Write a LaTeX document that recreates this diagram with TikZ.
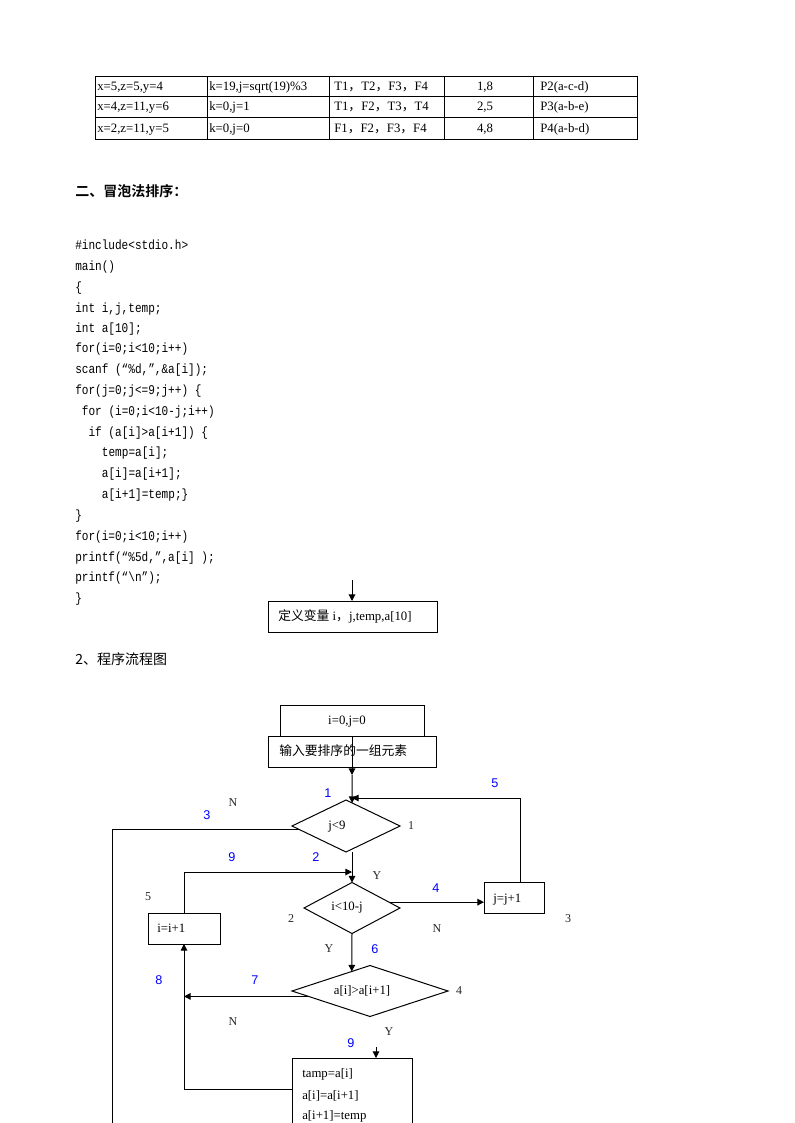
\documentclass[tikz,border=0pt]{standalone}
\usepackage{fontspec}
\setmainfont{Liberation Serif}
\newfontfamily\cjk{Noto Sans CJK SC}
\newfontfamily\cjkb{Noto Sans CJK SC Bold}
\newfontfamily\codefont[FakeStretch=0.83]{Liberation Mono}
\newfontfamily\sansnum{Liberation Sans}
\usetikzlibrary{shapes.geometric,arrows.meta}
\definecolor{numblue}{RGB}{0,0,255}
\begin{document}
\begin{tikzpicture}[x=0.75pt,y=-0.75pt,
  ln/.style={line width=0.75pt},
  box/.style={draw, line width=0.75pt, inner sep=0pt, outer sep=0pt, minimum height=23.25pt},
  dia/.style={draw, diamond, line width=0.75pt, inner sep=0pt, outer sep=0pt},
  arr/.style={line width=0.75pt, -{Triangle[length=5pt,width=5pt]}},
  txt/.style={inner sep=0pt, font=\fontsize{9.6}{11}\selectfont, text height=6.5pt, text depth=1.8pt},
  ltxt/.style={txt, anchor=west},
  blu/.style={inner sep=0pt, text=numblue, font=\sansnum\fontsize{9.5}{11}\selectfont},
  blk/.style={inner sep=0pt, text=black!85, font=\fontsize{9}{11}\selectfont},
  code/.style={anchor=west, inner sep=0pt, font=\codefont\fontsize{10}{12}\selectfont, text height=7pt, text depth=2pt}
]
\useasboundingbox (0,0) rectangle (794,1123);
\clip (0,0) rectangle (794,1123);

% ---------- table ----------
\draw[ln] (95,77) rectangle (637,140);
\draw[ln] (95,97) -- (637,97);
\draw[ln] (95,118) -- (637,118);
\foreach \cx in {207,329,444,533} \draw[ln] (\cx,77) -- (\cx,140);
\node[ltxt] (t11) at (97,87) {x=5,z=5,y=4};
\node[ltxt] (t12) at (209,87) {k=19,j=sqrt(19)\%3};
\node[ltxt] (t13) at (334,87) {T1{\cjk ，}T2{\cjk ，}F3{\cjk ，}F4};
\node[txt] (t14) at (485,87) {1,8};
\node[ltxt] (t15) at (540,87) {P2(a-c-d)};
\node[ltxt] (t21) at (97,107.5) {x=4,z=11,y=6};
\node[ltxt] (t22) at (209,107.5) {k=0,j=1};
\node[ltxt] (t23) at (334,107.5) {T1{\cjk ，}F2{\cjk ，}T3{\cjk ，}T4};
\node[txt] (t24) at (485,107.5) {2,5};
\node[ltxt] (t25) at (540,107.5) {P3(a-b-e)};
\node[ltxt] (t31) at (97,129) {x=2,z=11,y=5};
\node[ltxt] (t32) at (209,129) {k=0,j=0};
\node[ltxt] (t33) at (334,129) {F1{\cjk ，}F2{\cjk ，}F3{\cjk ，}F4};
\node[txt] (t34) at (485,129) {4,8};
\node[ltxt] (t35) at (540,129) {P4(a-b-d)};

% ---------- heading ----------
\node[anchor=west, inner sep=0pt, font=\cjkb\fontsize{10.5}{12}\selectfont] (head) at (75,191) {二、冒泡法排序：};

% ---------- code ----------
\node[code] (c01) at (75,246) {\#include<stdio.h>};
\node[code] (c02) at (75,267) {main()};
\node[code] (c03) at (75,288) {\{};
\node[code] (c04) at (75,309) {int i,j,temp;};
\node[code] (c05) at (75,329) {int a[10];};
\node[code] (c06) at (75,349) {for(i=0;i<10;i++)};
\node[code] (c07) at (75,370) {scanf (“\%d,”,\&a[i]);};
\node[code] (c08) at (75,391) {for(j=0;j<=9;j++) \{};
\node[code] (c09) at (81.7,412) {for (i=0;i<10-j;i++)};
\node[code] (c10) at (88.3,433) {if (a[i]>a[i+1]) \{};
\node[code] (c11) at (101.7,453) {temp=a[i];};
\node[code] (c12) at (101.7,474) {a[i]=a[i+1];};
\node[code] (c13) at (101.7,495) {a[i+1]=temp;\}};
\node[code] (c14) at (75,516) {\}};
\node[code] (c15) at (75,537) {for(i=0;i<10;i++)};
\node[code] (c16) at (75,558) {printf(“\%5d,”,a[i] );};
\node[code] (c17) at (75,578) {printf(“\textbackslash n”);};
\node[code] (c18) at (75,599) {\}};

% ---------- define box ----------
\node[box, minimum width=126.75pt] (def) at (352.5,616.5) {};
\node[ltxt] (deft) at (278,617) {{\cjk 定义变量} i{\cjk ，}j,temp,a[10]};
\coordinate (tin) at (352,580);
\draw[arr] (tin) -- (tin |- def.north);

\node[anchor=west, inner sep=0pt, font=\cjk\fontsize{10.5}{12}\selectfont] (sub) at (75,659) {2、程序流程图};

% ---------- flowchart nodes ----------
\node[box, minimum width=108pt] (i0) at (352,720.5) {};
\node[txt] (i0t) at (347,721) {i=0,j=0};
\node[box, minimum width=126pt] (inp) at (352,751.5) {};
\node[ltxt] (inpt) at (279,752) {\cjk 输入要排序的一组元素};

\node[dia, minimum width=81pt, minimum height=39pt] (d1) at (346,826) {};
\node[txt] (d1t) at (337,826) {j<9};
\node[dia, minimum width=72pt, minimum height=38.25pt] (d2) at (352,908) {};
\node[txt] (d2t) at (347,907) {i<10-j};
\node[dia, minimum width=117pt, minimum height=38.25pt] (d3) at (370,991) {};
\node[txt] (d3t) at (362,991) {a[i]>a[i+1]};

\node[box, minimum width=45pt] (jb) at (514,897.5) {};
\node[ltxt] (jbt) at (493,899) {j=j+1};
\node[box, minimum width=54pt] (ib) at (184,928.5) {};
\node[ltxt] (ibt) at (157,929) {i=i+1};
\node[box, minimum width=90pt, minimum height=69pt] (tb) at (352,1104) {};
\node[ltxt] (tb1) at (302,1074) {tamp=a[i]};
\node[ltxt] (tb2) at (302,1096) {a[i]=a[i+1]};
\node[ltxt] (tb3) at (302,1116) {a[i+1]=temp};

% ---------- connectors ----------
\coordinate (m1) at (352,775);
\draw[arr] (i0.south) -- (m1);
\draw[arr] (m1) -- (d1.75);
\coordinate (c5) at (520,798);
\draw[arr] (c5 |- jb.north) -- (c5) -- (c5 -| m1);
\coordinate (c3) at (112,1140);
\draw[ln] (d1.184) -| (c3);
\draw[arr] (d1.south -| d2.north) -- (d2.north);
\coordinate (c9) at (352,872);
\draw[arr] (ib.north) |- (c9);
\draw[arr] (d2.9) -- (d2.9 -| jb.west);
\draw[arr] (d2.south) -- (d3.133);
\draw[arr] (d3.185) -- (d3.185 -| ib.south);
\coordinate (c9b) at (376,1047);
\draw[arr] (c9b) -- (c9b |- tb.north);
\coordinate (c8) at (292,1089);
\draw[arr] (tb.west |- c8) -| (ib.south);

% ---------- labels ----------
\node[blu] (n1) at (328,793) {1};
\node[blk] (b1) at (411,826) {1};
\node[blk] (bN1) at (233,803) {N};
\node[blu] (n3) at (207,815) {3};
\node[blu] (n9a) at (232,857) {9};
\node[blu] (n2) at (316,857) {2};
\node[blu] (n5) at (495,783) {5};
\node[blk] (bY1) at (377,876) {Y};
\node[blu] (n4) at (436,888) {4};
\node[blk] (b5) at (148,897) {5};
\node[blk] (b2) at (291,919) {2};
\node[blk] (b3) at (568,919) {3};
\node[blk] (bN2) at (437,929) {N};
\node[blk] (bY2) at (329,949) {Y};
\node[blu] (n6) at (375,949) {6};
\node[blu] (n7) at (255,980) {7};
\node[blu] (n8) at (159,980) {8};
\node[blk] (b4) at (459,991) {4};
\node[blk] (bN3) at (233,1022) {N};
\node[blk] (bY3) at (389,1032) {Y};
\node[blu] (n9b) at (351,1043) {9};
\end{tikzpicture}
\end{document}
